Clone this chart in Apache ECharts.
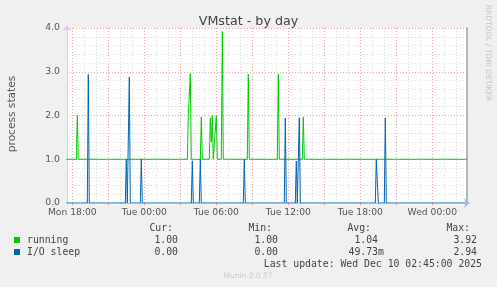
<!DOCTYPE html>
<html>
<head>
<meta charset="utf-8">
<script src="https://cdn.jsdelivr.net/npm/echarts@6/dist/echarts.min.js"></script>
<style>
html,body{margin:0;padding:0;background:#f0f0f0;}
#chart{width:497px;height:287px;}
</style>
</head>
<body>
<div id="chart"></div>
<script>
// ---- data (times as "Day HH:MM", values in process states) ----
const runningPoints = [
  ['Mon 17:30', 1], ['Mon 18:20', 1], ['Mon 18:25', 2.0], ['Mon 18:30', 1],
  ['Tue 03:35', 1], ['Tue 03:40', 2.0], ['Tue 03:45', 2.0], ['Tue 03:50', 2.96], ['Tue 03:55', 1],
  ['Tue 04:40', 1], ['Tue 04:45', 1.97], ['Tue 04:50', 1],
  ['Tue 05:25', 1], ['Tue 05:30', 1.95], ['Tue 05:35', 1.4], ['Tue 05:40', 2.0], ['Tue 05:45', 1],
  ['Tue 05:55', 1], ['Tue 06:00', 2.0], ['Tue 06:05', 1],
  ['Tue 06:25', 1], ['Tue 06:30', 3.92], ['Tue 06:35', 1],
  ['Tue 08:35', 1], ['Tue 08:40', 2.94], ['Tue 08:45', 1],
  ['Tue 11:05', 1], ['Tue 11:10', 2.95], ['Tue 11:15', 1],
  ['Tue 13:10', 1], ['Tue 13:15', 1.97], ['Tue 13:20', 1],
  ['Wed 03:00', 1]
];
const ioSleepPoints = [
  ['Mon 17:30', 0], ['Mon 19:15', 0], ['Mon 19:20', 2.94], ['Mon 19:25', 0],
  ['Mon 22:25', 0], ['Mon 22:30', 1.0], ['Mon 22:35', 0],
  ['Mon 22:40', 0], ['Mon 22:45', 2.88], ['Mon 22:50', 0],
  ['Mon 23:40', 0], ['Mon 23:45', 1.0], ['Mon 23:50', 0],
  ['Tue 03:55', 0], ['Tue 04:00', 0.96], ['Tue 04:05', 0],
  ['Tue 04:35', 0], ['Tue 04:40', 1.0], ['Tue 04:45', 0],
  ['Tue 08:15', 0], ['Tue 08:20', 1.0], ['Tue 08:25', 0],
  ['Tue 11:40', 0], ['Tue 11:45', 1.94], ['Tue 11:50', 0],
  ['Tue 12:35', 0], ['Tue 12:40', 0.96], ['Tue 12:45', 0],
  ['Tue 12:50', 0], ['Tue 12:55', 1.95], ['Tue 13:00', 0],
  ['Tue 19:15', 0], ['Tue 19:20', 1.0], ['Tue 19:25', 1.0], ['Tue 19:30', 0],
  ['Tue 20:00', 0], ['Tue 20:05', 1.94], ['Tue 20:10', 0],
  ['Wed 03:00', 0]
];
const xLabelTimes = ['Mon 18:00', 'Tue 00:00', 'Tue 06:00', 'Tue 12:00', 'Tue 18:00', 'Wed 00:00'];
const xMajorTimes = ['Mon 18:00', 'Mon 21:00', 'Tue 00:00', 'Tue 03:00', 'Tue 06:00', 'Tue 09:00',
  'Tue 12:00', 'Tue 15:00', 'Tue 18:00', 'Tue 21:00', 'Wed 00:00'];
const yTicks = [0, 1, 2, 3, 4];
const seriesNames = ['running', 'I/O sleep'];
const curValues = ['1.00', '0.00'];
const minValues = ['1.00', '0.00'];
const avgValues = ['1.04', '49.73m'];
const maxValues = ['3.92', '2.94'];
const colHeaders = ['Cur:', 'Min:', 'Avg:', 'Max:'];
const lastUpdate = 'Last update: Wed Dec 10 02:45:00 2025';

// ---- helpers ----
const DAYS = ['Mon', 'Tue', 'Wed'];
function toHours(s) {
  const [d, hm] = s.split(' ');
  const [h, m] = hm.split(':').map(Number);
  return DAYS.indexOf(d) * 24 + h + m / 60;
}
function fmtHour(v) {
  const r = Math.round(v);
  const d = DAYS[Math.floor(r / 24)];
  const h = r % 24;
  return d + ' ' + (h < 10 ? '0' + h : h) + ':00';
}
const X_MIN = toHours('Mon 17:33') + 0.5 / 60;
const X_MAX = X_MIN + 400 / 12;
const labelVals = xLabelTimes.map(toHours);
const majorVals = xMajorTimes.map(toHours);
const minorVals = [];
for (let h = Math.ceil(X_MIN); h <= X_MAX; h++) {
  if (!majorVals.includes(h)) minorVals.push(h);
}

const MAJOR = '#eaa6a6';
const MINOR = '#dcdcdc';
const MONO = '"DejaVu Sans Mono", monospace';
const SANS = '"DejaVu Sans", sans-serif';

const chart = echarts.init(document.getElementById('chart'), null, { renderer: 'canvas' });

// legend graphics
const g = [];
const colRight = [178, 278, 378, 477];
const hdrRight = [173, 272, 371, 470];
const rowY = [240, 252];
const cw = 5.9;
colHeaders.forEach((t, i) => g.push({ type: 'text', x: hdrRight[i], y: 228,
  style: { text: t, font: '9.8px ' + MONO, fill: '#444', textAlign: 'right', textVerticalAlign: 'middle' } }));
const colors = ['#00cc00', '#0066b3'];
seriesNames.forEach((n, r) => {
  g.push({ type: 'rect', shape: { x: 14, y: rowY[r] - 3, width: 6, height: 6 }, style: { fill: colors[r] } });
  g.push({ type: 'text', x: 27, y: rowY[r], style: { text: n, font: '9.8px ' + MONO, fill: '#444', textVerticalAlign: 'middle' } });
  [curValues, minValues, avgValues, maxValues].forEach((arr, c) => {
    const v = arr[r];
    const suffix = /[a-zA-Z]$/.test(v);
    g.push({ type: 'text', x: colRight[c] + (suffix ? cw : 0), y: rowY[r],
      style: { text: v, font: '9.8px ' + MONO, fill: '#444', textAlign: 'right', textVerticalAlign: 'middle' } });
  });
});
g.push({ type: 'text', x: 482, y: 264, style: { text: lastUpdate, font: '9.8px ' + MONO, fill: '#444', textAlign: 'right', textVerticalAlign: 'middle' } });
g.push({ type: 'text', x: 248, y: 276, style: { text: 'Munin 2.0.57', font: '7.5px ' + SANS, fill: '#c8c8c8', textAlign: 'center', textVerticalAlign: 'middle' } });
g.push({ type: 'text', x: 12, y: 114, rotation: Math.PI / 2,
  style: { text: 'process states', font: '10.6px ' + SANS, fill: '#555', textAlign: 'center', textVerticalAlign: 'middle' } });
g.push({ type: 'text', x: 488, y: 53, rotation: -Math.PI / 2,
  style: { text: 'RRDTOOL / TOBI OETIKER', font: '7.5px ' + SANS, fill: '#c4c4c4', textAlign: 'center', textVerticalAlign: 'middle' } });

const option = {
  backgroundColor: '#f0f0f0',
  animation: false,
  title: {
    text: 'VMstat - by day', left: 'center', top: 10,
    textStyle: { fontFamily: SANS, fontSize: 12.7, fontWeight: 'normal', color: '#444' }
  },
  grid: { left: 67, right: 30, top: 28, bottom: 84, show: true, backgroundColor: '#ffffff', borderWidth: 0 },
  xAxis: [
    {
      type: 'value', min: X_MIN, max: X_MAX, z: 1, position: 'bottom',
      axisLine: { show: false },
      axisTick: { show: true, customValues: majorVals, length: 2, lineStyle: { color: '#e88080' } },
      axisLabel: { customValues: labelVals, formatter: fmtHour, fontFamily: SANS, fontSize: 9.2, color: '#555', margin: 5 },
      splitLine: { show: true, lineStyle: { color: MAJOR, type: [1, 2], width: 1 } }
    },
    {
      type: 'value', min: X_MIN, max: X_MAX, z: 0, position: 'bottom',
      axisLine: { show: false },
      axisTick: { show: false, customValues: minorVals },
      axisLabel: { show: false },
      splitLine: { show: true, lineStyle: { color: MINOR, type: [1, 2], width: 1 } }
    },
    {
      type: 'value', min: X_MIN, max: X_MAX, z: 5, position: 'bottom',
      axisLine: { show: true, symbol: ['none', 'arrow'], symbolSize: [7, 6], symbolOffset: [0, 3],
        lineStyle: { color: '#a6b6e6', width: 1 } },
      axisTick: { show: false }, axisLabel: { show: false }, splitLine: { show: false }
    }
  ],
  yAxis: [
    {
      type: 'value', min: 0, max: 4, interval: 1, z: 1, position: 'left',
      axisLine: { show: true, symbol: ['none', 'arrow'], symbolSize: [7, 6], symbolOffset: [0, 3],
        lineStyle: { color: '#cfcff5', width: 1 } },
      axisTick: { show: false },
      axisLabel: { formatter: v => v.toFixed(1), fontFamily: SANS, fontSize: 9.3, color: '#555', margin: 7 },
      splitLine: { show: true, lineStyle: { color: MAJOR, type: [1, 2], width: 1 } },
      minorTick: { show: false, splitNumber: 5 },
      minorSplitLine: { show: true, lineStyle: { color: MINOR, type: [1, 2], width: 1 } }
    },
    {
      type: 'value', min: 0, max: 4, position: 'right', z: 5,
      axisLine: { show: true, lineStyle: { color: '#a0a0a0', width: 1.5 } },
      axisTick: { show: false }, axisLabel: { show: false }, splitLine: { show: false }
    }
  ],
  series: [
    {
      name: seriesNames[0], type: 'line', xAxisIndex: 0, yAxisIndex: 0, showSymbol: false,
      data: runningPoints.map(p => [toHours(p[0]), p[1]]),
      lineStyle: { color: colors[0], width: 1 }, itemStyle: { color: colors[0] }, z: 2
    },
    {
      name: seriesNames[1], type: 'line', xAxisIndex: 0, yAxisIndex: 0, showSymbol: false,
      data: ioSleepPoints.map(p => [toHours(p[0]), p[1]]),
      lineStyle: { color: colors[1], width: 1 }, itemStyle: { color: colors[1] }, z: 3
    }
  ],
  graphic: g
};
chart.setOption(option);
</script>
</body>
</html>
